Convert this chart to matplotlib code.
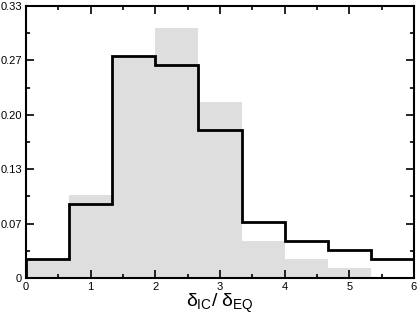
import matplotlib
matplotlib.use("Agg")
import matplotlib.pyplot as plt
import numpy as np
from matplotlib.ticker import MultipleLocator, FixedLocator, FixedFormatter

plt.rcParams['font.family'] = ['Liberation Sans', 'DejaVu Sans']
plt.rcParams['mathtext.fontset'] = 'custom'
plt.rcParams['mathtext.rm'] = 'Liberation Sans'
plt.rcParams['mathtext.it'] = 'Liberation Sans'

# bin edges (width 2/3) and the two distributions
edges = np.linspace(0, 6, 10)
gray_vals = [0.023, 0.102, 0.272, 0.306, 0.216, 0.046, 0.023, 0.012, 0.0]
line_vals = [0.023, 0.091, 0.272, 0.261, 0.182, 0.069, 0.046, 0.034, 0.023]

yticks = [0, 1/15, 2/15, 3/15, 4/15, 5/15]
ylabels = ["0", "0.07", "0.13", "0.20", "0.27", "0.33"]

fig = plt.figure(figsize=(4.19, 3.16), dpi=100)
ax = fig.add_axes([0.062, 0.120, 0.926, 0.861])

ax.bar(edges[:-1], gray_vals, width=np.diff(edges), align='edge',
       color='#dedede', edgecolor='none', zorder=1)
ax.stairs(line_vals, edges, color='black', linewidth=2, zorder=3)

ax.set_xlim(0, 6)
ax.set_ylim(0, 1/3)
ax.xaxis.set_major_locator(MultipleLocator(1))
ax.xaxis.set_minor_locator(MultipleLocator(0.5))
ax.yaxis.set_major_locator(FixedLocator(yticks))
ax.yaxis.set_major_formatter(FixedFormatter(ylabels))
ax.yaxis.set_minor_locator(FixedLocator([1/30 + i/15 for i in range(5)]))

ax.tick_params(which='both', direction='in', top=True, right=True, labelsize=8, width=1.2)
ax.tick_params(which='major', length=6, pad=3)
ax.tick_params(which='minor', length=3)
for s in ax.spines.values():
    s.set_linewidth(1.5)
    s.set_zorder(4)

ax.set_xlabel(r'$\delta_{\mathrm{IC}}/\ \delta_{\mathrm{EQ}}$', fontsize=14, labelpad=0)

plt.savefig("out.png", dpi=100)
plt.close()
